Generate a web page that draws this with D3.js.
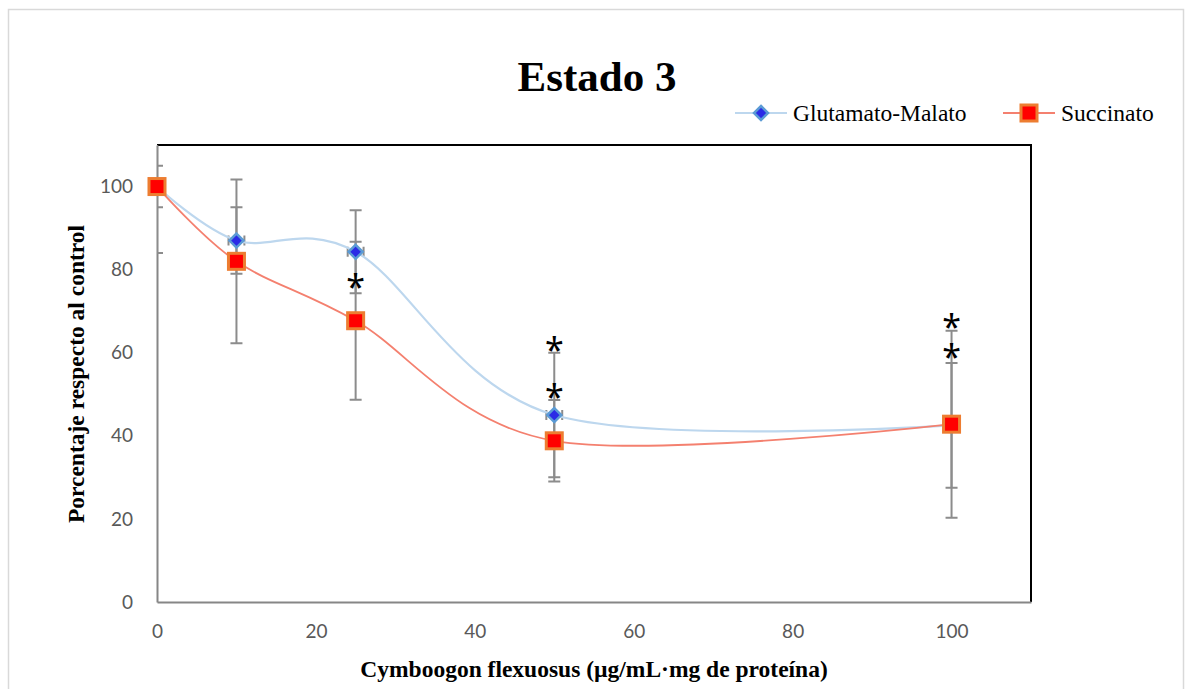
<!DOCTYPE html>
<html>
<head>
<meta charset="utf-8">
<script src="https://cdn.jsdelivr.net/npm/d3@7"></script>
<style>
  html, body { margin: 0; padding: 0; background: #fff; }
  svg { display: block; }
</style>
</head>
<body>
<svg id="chart" width="1185" height="689"></svg>
<script>
'use strict';

// ── data ────────────────────────────────────────────────────────
const doses = [0, 10, 25, 50, 100];
const glutamatoMalato = [100, 87, 84.3, 45, 42.5];
const gmError = [5, 8, 10, 15, 15];
const gmDoseError = [1, 1, 1, 1, 1];
const succinato = [100, 82, 67.7, 38.8, 42.8];
const succError = [16, 19.7, 19, 9.8, 22.5];
const xTicks = [0, 20, 40, 60, 80, 100];
const yTicks = [0, 20, 40, 60, 80, 100];
// significance marks: dose and the value they sit at
const starDoses = [25, 50, 50, 100, 100];
const starValues = [77.4, 62.3, 51, 67.8, 60.6];

const GM = { line: '#bdd7ee', fill: '#2b2be6', stroke: '#5b9bd5' };
const SU = { line: '#f4806f', fill: '#ff0000', stroke: '#ed7d31' };
const ERR = '#8c8c8c';
const SERIF = '"Liberation Serif", "Times New Roman", serif';
const SANS = 'Lato, "Open Sans", sans-serif';

const svg = d3.select('#chart');

// outer chart frame
svg.append('rect')
  .attr('x', 8.5).attr('y', 9.5).attr('width', 1175).attr('height', 700)
  .attr('fill', '#fff').attr('stroke', '#d9d9d9').attr('stroke-width', 1.5);

const plot = { left: 157, right: 1031, top: 145, bottom: 602 };
const x = d3.scaleLinear().domain([0, 110]).range([plot.left, plot.right]);
const y = d3.scaleLinear().domain([0, 110]).range([plot.bottom, plot.top]);

svg.append('defs').append('clipPath').attr('id', 'plot-clip')
  .append('rect')
  .attr('x', plot.left).attr('y', plot.top)
  .attr('width', plot.right - plot.left).attr('height', plot.bottom - plot.top);

// plot-area border: black top/right, gray axes left/bottom
svg.append('path')
  .attr('d', `M${plot.left},${plot.top}H${plot.right}V${plot.bottom}`)
  .attr('fill', 'none').attr('stroke', '#000').attr('stroke-width', 2);

const yAxis = svg.append('g')
  .attr('transform', `translate(${plot.left},0)`)
  .call(d3.axisLeft(y).tickValues(yTicks).tickSize(0).tickPadding(24));
yAxis.select('.domain').attr('stroke', '#868686').attr('stroke-width', 2);
yAxis.selectAll('text').attr('font-family', SANS).attr('font-size', 19).attr('fill', '#595959');

const xAxis = svg.append('g')
  .attr('transform', `translate(0,${plot.bottom})`)
  .call(d3.axisBottom(x).tickValues(xTicks).tickSize(0).tickPadding(23));
xAxis.select('.domain').attr('stroke', '#868686').attr('stroke-width', 2);
xAxis.selectAll('text').attr('font-family', SANS).attr('font-size', 19).attr('fill', '#595959');

// ── error bars (clipped to the plot area like Excel does) ───────
const errG = svg.append('g').attr('clip-path', 'url(#plot-clip)')
  .attr('stroke', ERR).attr('stroke-width', 2).attr('fill', 'none');
const cap = 6;

function vBars(values, errs) {
  doses.forEach((d, i) => {
    const cx = x(d), hi = y(values[i] + errs[i]), lo = y(values[i] - errs[i]);
    errG.append('path').attr('d',
      `M${cx},${hi}V${lo}M${cx - cap},${hi}H${cx + cap}M${cx - cap},${lo}H${cx + cap}`);
  });
}
vBars(glutamatoMalato, gmError);
vBars(succinato, succError);

doses.forEach((d, i) => {
  const cy = y(glutamatoMalato[i]);
  const l = x(d - gmDoseError[i]), r = x(d + gmDoseError[i]);
  errG.append('path').attr('d', `M${l},${cy}H${r}M${l},${cy - 5}V${cy + 5}M${r},${cy - 5}V${cy + 5}`);
});

// ── smoothed lines ──────────────────────────────────────────────
const line = d3.line().curve(d3.curveCatmullRom.alpha(0));
svg.append('path')
  .attr('d', line(doses.map((d, i) => [x(d), y(glutamatoMalato[i])])))
  .attr('fill', 'none').attr('stroke', GM.line).attr('stroke-width', 2.2);
svg.append('path')
  .attr('d', line(doses.map((d, i) => [x(d), y(succinato[i])])))
  .attr('fill', 'none').attr('stroke', SU.line).attr('stroke-width', 1.8);

// ── markers ─────────────────────────────────────────────────────
function diamond(g, cx, cy) {
  const r = 7;
  g.append('path')
    .attr('d', `M${cx},${cy - r}L${cx + r},${cy}L${cx},${cy + r}L${cx - r},${cy}Z`)
    .attr('fill', GM.fill).attr('stroke', GM.stroke).attr('stroke-width', 2.5);
}
function square(g, cx, cy) {
  const s = 16;
  g.append('rect')
    .attr('x', cx - s / 2).attr('y', cy - s / 2).attr('width', s).attr('height', s)
    .attr('fill', SU.fill).attr('stroke', SU.stroke).attr('stroke-width', 3);
}

const markG = svg.append('g');
doses.forEach((d, i) => diamond(markG, x(d), y(glutamatoMalato[i])));
doses.forEach((d, i) => square(markG, x(d), y(succinato[i])));

// ── significance asterisks ──────────────────────────────────────
const starSize = 34;
svg.append('g').selectAll('text')
  .data(starDoses.map((d, i) => ({ d, v: starValues[i] })))
  .enter().append('text')
  .attr('x', p => x(p.d))
  .attr('y', p => y(p.v) + starSize * 0.56)
  .attr('text-anchor', 'middle')
  .attr('font-family', '"Noto Sans", sans-serif')
  .attr('font-size', starSize)
  .attr('fill', '#000')
  .text('*');

// ── titles ──────────────────────────────────────────────────────
svg.append('text')
  .attr('x', 597).attr('y', 91)
  .attr('text-anchor', 'middle')
  .attr('font-family', SERIF).attr('font-weight', 'bold').attr('font-size', 43)
  .text('Estado 3');

svg.append('text')
  .attr('x', 594).attr('y', 677)
  .attr('text-anchor', 'middle')
  .attr('font-family', SERIF).attr('font-weight', 'bold').attr('font-size', 23.5)
  .text('Cymboogon flexuosus (µg/mL·mg de proteína)');

svg.append('text')
  .attr('transform', `translate(84,374) rotate(-90)`)
  .attr('text-anchor', 'middle')
  .attr('font-family', SERIF).attr('font-weight', 'bold').attr('font-size', 23.5)
  .text('Porcentaje respecto al control');

// ── legend ──────────────────────────────────────────────────────
const legendY = 113;
const legend = svg.append('g');
legend.append('path').attr('d', `M735,${legendY}H787`)
  .attr('stroke', GM.line).attr('stroke-width', 2.2);
diamond(legend, 761, legendY);
legend.append('text').attr('x', 793).attr('y', legendY + 8)
  .attr('font-family', SERIF).attr('font-size', 23.5)
  .text('Glutamato-Malato');

legend.append('path').attr('d', `M1003,${legendY}H1055`)
  .attr('stroke', SU.line).attr('stroke-width', 1.8);
square(legend, 1029, legendY);
legend.append('text').attr('x', 1061).attr('y', legendY + 8)
  .attr('font-family', SERIF).attr('font-size', 23.5)
  .text('Succinato');
</script>
</body>
</html>
